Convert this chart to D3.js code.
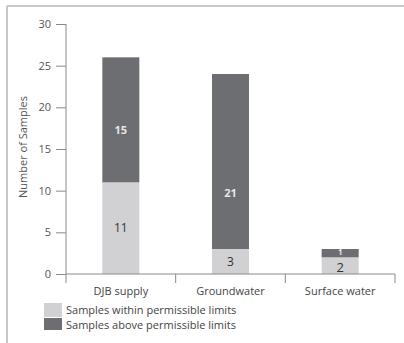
<!DOCTYPE html>
<html><head><meta charset="utf-8">
<script src="https://cdn.jsdelivr.net/npm/d3@7"></script>
<style>body{margin:0;background:#fff}svg{display:block}text{font-family:"Open Sans",sans-serif}</style>
</head><body>
<svg id="c" width="404" height="343"></svg>
<script>
const categories = ["DJB supply", "Groundwater", "Surface water"];
const withinLimits = [11, 3, 2];
const aboveLimits = [15, 21, 1];
const seriesNames = ["Samples within permissible limits", "Samples above permissible limits"];
const yTicks = [0, 5, 10, 15, 20, 25, 30];
const yTitle = "Number of Samples";
// value (in data units) where each segment's label sits
const withinLabelAt = [5.5, 1.5, 0.85];
const aboveLabelAt = [17.3, 9.7, 2.6];

const colors = ["#d1d1d3", "#6d6e72"];
const labelColors = ["#333", "#e6e6e6"];

const svg = d3.select("#c");
// frame
svg.append("line").attr("x1",7).attr("x2",404).attr("y1",6).attr("y2",6).attr("stroke","#c8c8cc").attr("stroke-width",2);
svg.append("line").attr("x1",7).attr("x2",7).attr("y1",6).attr("y2",343).attr("stroke","#c8c8cc").attr("stroke-width",2);

const x = d3.scaleBand().domain(categories).range([66, 395]).padding(0);
const y = d3.scaleLinear().domain([0, 30]).range([274, 24]);

const data = categories.map((c,i)=>({cat:c, i:i, vals:[withinLimits[i], aboveLimits[i]]}));
const stack = d3.stack().keys([0,1]).value((d,k)=>d.vals[k]);
const series = stack(data);
const bw = 37;
const labelAt = [withinLabelAt, aboveLabelAt];

series.forEach((s,k)=>{
  const g = svg.append("g");
  g.selectAll("rect").data(s).enter().append("rect")
    .attr("x", d=>x(d.data.cat)+x.bandwidth()/2-bw/2)
    .attr("width", bw)
    .attr("y", d=>y(d[1]))
    .attr("height", d=>y(d[0])-y(d[1]))
    .attr("fill", colors[k]);
  g.selectAll("text").data(s).enter().append("text")
    .attr("x", d=>x(d.data.cat)+x.bandwidth()/2)
    .attr("y", d=>y(labelAt[k][d.data.i]))
    .attr("dy","0.36em")
    .attr("text-anchor","middle")
    .attr("font-size", d=>{const v=d[1]-d[0]; return k===0 ? (v<3?13:12) : (v<2?8:11);})
    .attr("font-weight", k===1?"bold":"normal")
    .attr("fill", labelColors[k])
    .text(d=>d[1]-d[0]);
});

// y axis
const ya = svg.append("g").attr("transform","translate(66,0)")
  .call(d3.axisLeft(y).tickValues(yTicks).tickSize(10).tickPadding(5));
ya.select(".domain").attr("stroke","#8a8a8a").attr("d","M0,24V274");
ya.selectAll(".tick line").attr("stroke","#8a8a8a");
ya.selectAll(".tick text").attr("fill","#555").attr("font-size",11).attr("font-family","Open Sans");

// x axis
const xa = svg.append("g").attr("transform","translate(0,274)")
  .call(d3.axisBottom(x).tickSize(0).tickPadding(13));
xa.select(".domain").attr("stroke","#8a8a8a").attr("d","M66,0H395");
xa.selectAll(".tick text").attr("fill","#444").attr("font-size",11).attr("font-family","Open Sans");
const bounds = [66].concat(categories.map(c=>x(c)+x.bandwidth()));
svg.append("g").selectAll("line").data(bounds).enter().append("line")
  .attr("x1",d=>d).attr("x2",d=>d).attr("y1",274).attr("y2",283).attr("stroke","#8a8a8a");

// y title
svg.append("text").attr("transform","translate(27,147) rotate(-90)")
  .attr("text-anchor","middle").attr("font-size",11).attr("fill","#555").text(yTitle);

// legend
const lg = svg.append("g");
seriesNames.forEach((n,i)=>{
  lg.append("rect").attr("x",44).attr("y",303+i*15).attr("width",18).attr("height", i===0?14:12).attr("fill",colors[i]);
  lg.append("text").attr("x",66).attr("y",310+i*15).attr("dy","0.35em").attr("font-size",11).attr("fill","#444").text(n);
});
</script>
</body></html>
